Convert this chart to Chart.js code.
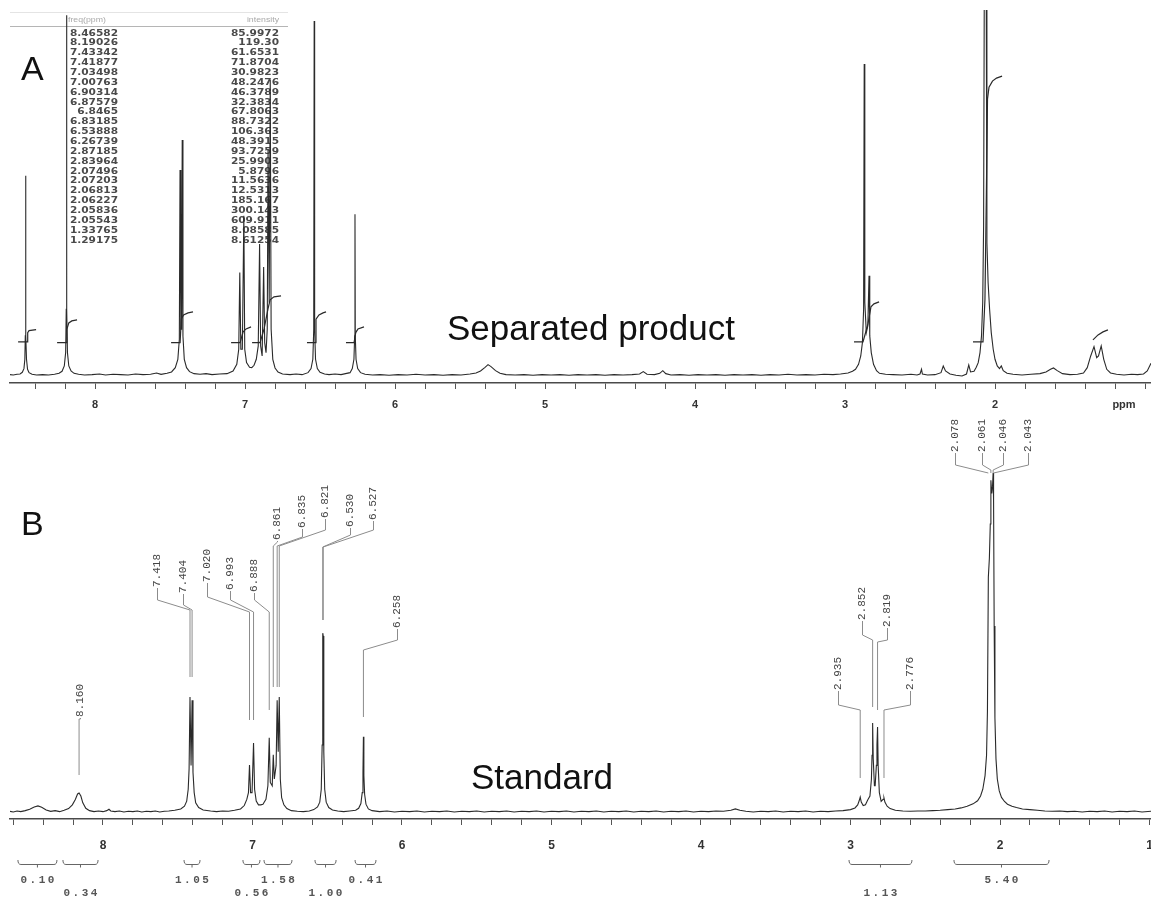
<!DOCTYPE html>
<html><head><meta charset="utf-8">
<script src="https://cdn.jsdelivr.net/npm/chart.js@4/dist/chart.umd.min.js"></script>
<style>
html,body{margin:0;padding:0;background:#fff;}
#wrap{position:relative;width:1151px;height:902px;overflow:hidden;background:#fff;}
canvas{position:absolute;left:0;top:0;}
</style></head><body>
<div id="wrap"><canvas id="cA" width="1151" height="902"></canvas><canvas id="cB" width="1151" height="902"></canvas></div>
<script>
// ---------------- DATA ----------------
// Panel A (separated product): [chemical shift ppm, intensity]
const spectrumA = [[8.567,0.4],[8.545,0.3],[8.52,0.5],[8.50,0.6],[8.485,1.1],[8.474,2.2],[8.468,5],[8.465,12],[8.463,60],[8.461,12],[8.457,5],[8.45,2],[8.44,1],[8.42,0.5],[8.39,0.3],[8.35,0.4],[8.31,0.3],[8.27,0.5],[8.24,0.8],[8.22,1.4],[8.205,3],[8.196,7],[8.192,20],[8.190,108],[8.188,20],[8.184,7],[8.175,3],[8.16,1.5],[8.14,0.8],[8.11,0.5],[8.07,0.3],[8.02,0.4],[7.97,0.6],[7.93,0.3],[7.88,0.5],[7.83,0.4],[7.78,0.3],[7.73,0.6],[7.68,0.4],[7.63,0.5],[7.59,0.9],[7.56,0.5],[7.52,0.8],[7.49,1.2],[7.465,2.5],[7.448,5],[7.438,11],[7.4334,61.7],[7.428,14],[7.423,14],[7.4188,70.7],[7.414,12],[7.405,5],[7.39,2.5],[7.37,1.3],[7.34,0.7],[7.30,0.5],[7.26,0.7],[7.22,0.4],[7.17,0.6],[7.12,0.7],[7.08,1.5],[7.055,3.5],[7.042,8],[7.035,31],[7.028,8],[7.018,8],[7.008,48],[7.002,8],[6.99,4],[6.97,2.6],[6.955,2.5],[6.94,3.2],[6.925,5],[6.912,9],[6.903,39.5],[6.896,9],[6.886,6],[6.876,32.6],[6.869,10],[6.86,7],[6.852,14],[6.8465,67.8],[6.839,22],[6.832,88.7],[6.826,14],[6.815,5],[6.80,2.4],[6.78,1.2],[6.75,0.6],[6.70,0.4],[6.66,0.6],[6.62,0.4],[6.58,1],[6.56,2.2],[6.548,5],[6.542,14],[6.539,106.3],[6.536,14],[6.53,5],[6.518,2.2],[6.50,1.1],[6.47,0.6],[6.44,0.4],[6.40,0.6],[6.36,0.4],[6.33,0.7],[6.30,1],[6.285,2.2],[6.274,5],[6.269,12],[6.267,48.4],[6.265,12],[6.26,5],[6.249,2.2],[6.23,1],[6.20,0.5],[6.15,0.3],[6.10,0.4],[6.04,0.2],[5.98,0.4],[5.92,0.3],[5.86,0.5],[5.80,0.3],[5.74,0.4],[5.68,0.2],[5.62,0.4],[5.56,0.3],[5.50,0.6],[5.46,0.9],[5.43,1.5],[5.40,2.6],[5.38,3.4],[5.36,2.8],[5.33,1.6],[5.30,0.8],[5.26,0.4],[5.20,0.3],[5.14,0.4],[5.08,0.2],[5.02,0.4],[4.96,0.3],[4.90,0.4],[4.84,0.2],[4.78,0.4],[4.72,0.3],[4.66,0.4],[4.60,0.2],[4.54,0.4],[4.48,0.3],[4.42,0.4],[4.37,0.6],[4.345,1.3],[4.32,0.5],[4.27,0.4],[4.235,0.8],[4.215,1.6],[4.195,0.7],[4.16,0.3],[4.10,0.4],[4.04,0.2],[3.98,0.4],[3.92,0.3],[3.86,0.4],[3.80,0.2],[3.74,0.4],[3.68,0.3],[3.62,0.4],[3.56,0.2],[3.50,0.4],[3.44,0.3],[3.38,0.5],[3.32,0.3],[3.26,0.4],[3.20,0.3],[3.14,0.5],[3.08,0.4],[3.03,0.6],[2.98,0.9],[2.95,1.4],[2.93,2],[2.91,3.5],[2.895,6],[2.884,10],[2.876,20],[2.872,93.4],[2.868,22],[2.858,13],[2.848,15],[2.840,30],[2.835,12],[2.825,7],[2.81,3.5],[2.79,1.6],[2.77,0.8],[2.73,0.5],[2.68,0.4],[2.62,0.3],[2.56,0.5],[2.52,0.3],[2.50,0.6],[2.49,2],[2.484,0.6],[2.45,0.3],[2.40,0.4],[2.36,1],[2.345,3],[2.33,1.5],[2.30,0.6],[2.26,0.2],[2.22,0],[2.19,0.6],[2.175,3.3],[2.163,1.2],[2.14,1.4],[2.125,2.6],[2.112,4],[2.10,7],[2.09,12],[2.082,22],[2.076,45],[2.070,140],[2.060,140],[2.054,40],[2.046,28],[2.036,20],[2.025,13],[2.012,8],[2.0,5],[1.985,3],[1.97,2.2],[1.958,3],[1.945,1.6],[1.92,0.8],[1.88,0.5],[1.82,0.3],[1.76,0.5],[1.70,0.7],[1.66,1.2],[1.63,2],[1.61,2.4],[1.585,1.6],[1.55,0.7],[1.50,0.4],[1.45,0.5],[1.41,0.9],[1.385,2.5],[1.362,6],[1.34,8.8],[1.322,5.5],[1.31,6],[1.292,9],[1.275,5],[1.255,2],[1.23,0.9],[1.19,0.5],[1.14,0.3],[1.09,0.5],[1.05,0.4],[1.01,0.6],[0.985,1.5],[0.96,3.8]];

// Panel A integral traces: [ppm, integral level]
const integralA = [
  [[8.513,10.2],[8.453,10.2],[8.449,13],[8.44,13.6],[8.393,13.9]],
  [[8.253,10],[8.193,10],[8.188,14],[8.175,15.9],[8.155,16.5],[8.12,16.8]],
  [[7.493,10],[7.433,10],[7.425,17.1],[7.41,18.3],[7.38,18.9],[7.347,19.2]],
  [[7.093,10],[7.033,10],[7.013,13.2],[6.993,14.1],[6.96,14.7]],
  [[6.953,10],[6.9,10],[6.873,14.1],[6.847,20.1],[6.833,22.8],[6.807,23.7],[6.76,24]],
  [[6.587,10],[6.533,10],[6.527,17],[6.507,18.3],[6.48,18.9],[6.46,19.2]],
  [[6.327,10],[6.273,10],[6.262,13],[6.247,14.1],[6.207,14.7]],
  [[2.94,10.2],[2.88,10.2],[2.847,15.6],[2.827,20.7],[2.807,21.6],[2.773,22.2]],
  [[2.147,10.2],[2.08,10.2],[2.067,23],[2.058,53],[2.05,83],[2.04,86.5],[2.017,88.3],[1.99,89.2],[1.953,89.8]],
  [[1.347,10.8],[1.313,12.3],[1.28,13.2],[1.247,13.8]]
];

// Panel A peak table
const peakTableShift = ['8.46582','8.19026','7.43342','7.41877','7.03498','7.00763','6.90314','6.87579','6.8465','6.83185','6.53888','6.26739','2.87185','2.83964','2.07496','2.07203','2.06813','2.06227','2.05836','2.05543','1.33765','1.29175'];
const peakTableIntensity = ['85.9972','119.30','61.6531','71.8704','30.9823','48.2476','46.3789','32.3834','67.8063','88.7322','106.363','48.3915','93.7259','25.9903','5.8796','11.5636','12.5313','185.167','300.143','609.911','8.08585','8.61254'];

// Panel B (standard): [chemical shift ppm, intensity]
const spectrumB = [[8.622,0.5],[8.60,0.3],[8.575,0.6],[8.55,0.4],[8.52,0.7],[8.49,1.1],[8.46,1.8],[8.435,2.1],[8.41,1.7],[8.38,0.9],[8.35,0.5],[8.32,0.7],[8.29,0.4],[8.26,0.8],[8.23,1.3],[8.205,2.4],[8.185,4],[8.17,5.6],[8.16,5.9],[8.148,5],[8.135,3],[8.115,1.4],[8.09,0.7],[8.06,0.4],[8.03,0.6],[8.0,0.4],[7.975,0.7],[7.96,1.1],[7.948,0.6],[7.92,0.4],[7.89,0.6],[7.86,0.3],[7.83,0.5],[7.80,0.4],[7.77,0.6],[7.74,0.3],[7.71,0.5],[7.68,0.4],[7.65,0.6],[7.62,0.3],[7.59,0.5],[7.56,0.6],[7.52,0.8],[7.48,1.2],[7.455,2],[7.44,3.5],[7.43,7],[7.424,13],[7.418,34.1],[7.411,14],[7.404,33.2],[7.398,12],[7.39,6],[7.38,3],[7.36,1.6],[7.33,0.9],[7.28,0.6],[7.24,0.4],[7.20,0.6],[7.16,0.5],[7.12,0.8],[7.08,1.2],[7.055,2.2],[7.038,4],[7.027,6],[7.020,14.1],[7.013,6],[7.003,6],[6.993,20.6],[6.986,7],[6.975,3.5],[6.96,2.4],[6.945,2.4],[6.93,2.6],[6.91,4],[6.897,8],[6.888,22.1],[6.881,9],[6.868,8],[6.861,17.1],[6.854,10],[6.842,14],[6.835,33.2],[6.828,18],[6.821,34.1],[6.814,10],[6.805,4.5],[6.79,2.4],[6.77,1.3],[6.74,0.7],[6.70,0.5],[6.66,0.4],[6.62,0.6],[6.59,1],[6.565,1.8],[6.55,3.2],[6.54,7],[6.534,20],[6.530,52.9],[6.527,52.1],[6.523,18],[6.517,7],[6.507,3.2],[6.49,1.6],[6.465,0.9],[6.43,0.6],[6.39,0.4],[6.35,0.6],[6.31,0.8],[6.29,1.4],[6.275,2.8],[6.266,6],[6.261,12],[6.258,22.4],[6.255,11],[6.25,5.5],[6.241,2.6],[6.225,1.2],[6.20,0.7],[6.15,0.4],[6.10,0.6],[6.05,0.3],[6.0,0.5],[5.95,0.4],[5.90,0.6],[5.85,0.3],[5.80,0.5],[5.75,0.4],[5.70,0.6],[5.65,0.3],[5.60,0.5],[5.55,0.4],[5.50,0.6],[5.45,0.3],[5.40,0.5],[5.35,0.4],[5.30,0.6],[5.25,0.3],[5.20,0.5],[5.15,0.4],[5.10,0.6],[5.05,0.3],[5.0,0.5],[4.95,0.4],[4.90,0.6],[4.85,0.3],[4.80,0.5],[4.75,0.4],[4.70,0.6],[4.65,0.3],[4.60,0.5],[4.55,0.4],[4.50,0.6],[4.45,0.3],[4.40,0.5],[4.35,0.4],[4.30,0.6],[4.25,0.3],[4.20,0.5],[4.15,0.4],[4.10,0.6],[4.05,0.3],[4.0,0.5],[3.95,0.4],[3.90,0.6],[3.85,0.5],[3.80,0.8],[3.77,1.2],[3.74,0.8],[3.70,0.5],[3.65,0.3],[3.60,0.5],[3.55,0.4],[3.50,0.6],[3.45,0.3],[3.40,0.5],[3.35,0.4],[3.30,0.6],[3.25,0.3],[3.20,0.5],[3.15,0.4],[3.10,0.6],[3.05,0.7],[3.0,1],[2.97,1.5],[2.952,2.4],[2.942,3.6],[2.935,4.7],[2.928,3.2],[2.915,2.2],[2.90,2.4],[2.885,3.8],[2.87,5],[2.86,10],[2.856,17],[2.852,26.5],[2.848,16],[2.84,8],[2.835,8],[2.827,14],[2.823,20],[2.819,25.3],[2.815,14],[2.807,6],[2.795,3.4],[2.782,4],[2.776,4.4],[2.77,3.2],[2.755,2],[2.735,1.3],[2.70,0.8],[2.65,0.6],[2.60,0.5],[2.55,0.6],[2.50,0.6],[2.45,0.7],[2.40,0.8],[2.35,1],[2.30,1.2],[2.26,1.5],[2.22,2],[2.18,2.7],[2.15,3.6],[2.13,5],[2.115,7],[2.10,11],[2.09,17],[2.084,30],[2.078,69.4],[2.071,75],[2.065,85],[2.061,97.9],[2.055,94],[2.050,96],[2.046,100],[2.043,92.1],[2.039,55],[2.034,28],[2.027,16],[2.018,10],[2.005,6.5],[1.99,4.6],[1.97,3.4],[1.95,2.6],[1.92,2],[1.89,1.6],[1.85,1.2],[1.80,1],[1.75,0.8],[1.70,0.6],[1.65,0.5],[1.60,0.6],[1.55,0.4],[1.50,0.5],[1.45,0.3],[1.40,0.5],[1.35,0.4],[1.30,0.6],[1.25,0.3],[1.20,0.5],[1.15,0.4],[1.10,0.6],[1.05,0.3],[0.99,0.5]];

// Panel B peak picks
const peakLabelsB = ['8.160','7.418','7.404','7.020','6.993','6.888','6.861','6.835','6.821','6.530','6.527','6.258','2.935','2.852','2.819','2.776','2.078','2.061','2.046','2.043'];
// Panel B integrals: [from ppm, to ppm] and values
const integralRangesB = [[8.569,8.308],[8.268,8.033],[7.458,7.351],[7.064,6.950],[6.923,6.736],[6.582,6.441],[6.314,6.174],[3.010,2.589],[2.308,1.672]];
const integralValuesB = ['0.10','0.34','1.05','0.56','1.58','1.00','0.41','1.13','5.40'];

// Axis tick labels (ppm)
const axisLabelsA = [8,7,6,5,4,3,2];
const axisLabelsB = [8,7,6,5,4,3,2,1];

// ---------------- LAYOUT (pixels, not data) ----------------
// peak label geometry: [text x, text bottom y, elbow y, join y, leader end y]
const peakLabelLayoutB = [[80,717,719,719,775],[157,587,600,610,677],[183,593,605,610,677],[207,582,597,612,720],[230,590,600,612,720],[254,592,600,612,710],[277,540,542,546,687],[302,528,537,546,687],[325,518,530,546,687],[350,527,535,547,620],[373,520,530,547,620],[397,628,640,650,717],[838,690,705,710,778],[862,620,635,640,707],[887,627,640,642,710],[910,690,705,710,778],[955,452,465,473,473],[982,452,465,470,473],[1003,452,465,470,473],[1028,452,465,473,473]];
const integralRowB = [1,2,1,2,1,2,1,2,1];

Chart.defaults.font.family = "'Liberation Sans', Arial, sans-serif";
const INK = '#2a2a2a';

function isInt(v){ return Math.abs(v - Math.round(v)) < 1e-6; }

function xAxis(min, max, labels, h, fontSize, pad){
  return {
    type:'linear', reverse:true, min:min, max:max, position:'bottom',
    afterFit:(s)=>{ s.paddingLeft = 0; s.paddingRight = 0; s.height = h; },
    border:{display:true, color:'#4a4a4a', width:1.5},
    grid:{display:true, drawOnChartArea:false, drawTicks:true, tickLength:6, tickColor:'#555', tickWidth:1},
    ticks:{stepSize:0.2, includeBounds:false, autoSkip:false, maxRotation:0, minRotation:0, padding:pad,
      color:'#333', font:{size:fontSize, weight:'bold'},
      callback:(v)=> (isInt(v) && labels.indexOf(Math.round(v)) >= 0) ? String(Math.round(v)) : ''}
  };
}

function lineDs(pairs, w){
  return {data: pairs.map(p=>({x:p[0], y:p[1]})), borderColor:INK, borderWidth:w, pointRadius:0, tension:0, fill:false};
}

// ---------- Chart A ----------
const tablePlugin = {
  id:'tableA',
  beforeDatasetsDraw(chart){
    const ctx = chart.ctx; ctx.save();
    ctx.strokeStyle = '#e4e4e4'; ctx.lineWidth = 1;
    ctx.beginPath(); ctx.moveTo(10,12.5); ctx.lineTo(288,12.5); ctx.stroke();
    ctx.strokeStyle = '#b5b5b5';
    ctx.beginPath(); ctx.moveTo(10,26.5); ctx.lineTo(288,26.5); ctx.stroke();
    ctx.fillStyle = '#aaa'; ctx.font = "7px 'Liberation Sans'"; ctx.textBaseline = 'middle';
    ctx.save(); ctx.translate(68,20); ctx.scale(1.25,1); ctx.textAlign='left'; ctx.fillText('freq(ppm)',0,0); ctx.restore();
    ctx.save(); ctx.translate(279,20); ctx.scale(1.25,1); ctx.textAlign='right'; ctx.fillText('intensity',0,0); ctx.restore();
    ctx.fillStyle = '#4a4a4a'; ctx.font = "bold 8px 'DejaVu Sans'";
    for (let i=0;i<peakTableShift.length;i++){
      const y = 33.5 + i*9.86;
      ctx.save(); ctx.translate(118,y); ctx.scale(1.32,1); ctx.textAlign='right'; ctx.fillText(peakTableShift[i],0,0); ctx.restore();
      ctx.save(); ctx.translate(279,y); ctx.scale(1.32,1); ctx.textAlign='right'; ctx.fillText(peakTableIntensity[i],0,0); ctx.restore();
    }
    ctx.restore();
  },
  afterDraw(chart){
    const ctx = chart.ctx; ctx.save();
    ctx.fillStyle = '#111'; ctx.textBaseline = 'alphabetic';
    ctx.font = "34px 'Liberation Sans'"; ctx.textAlign='left'; ctx.fillText('A', 21, 80);
    ctx.font = "35px 'Liberation Sans'"; ctx.textAlign='center'; ctx.fillText('Separated product', 591, 340);
    ctx.font = "bold 11px 'Liberation Sans'"; ctx.fillStyle = '#333'; ctx.textBaseline='middle';
    ctx.fillText('ppm', 1124, 405);
    ctx.restore();
  }
};

const dsA = [lineDs(spectrumA, 1.1)].concat(integralA.map(seg => lineDs(seg, 1.2)));
new Chart(document.getElementById('cA'), {
  type:'line',
  data:{datasets: dsA},
  options:{
    responsive:false, animation:false, devicePixelRatio:1,
    layout:{padding:{left:10, right:0, top:10, bottom:477}},
    plugins:{legend:{display:false}, tooltip:{enabled:false}, title:{display:false}},
    scales:{
      x: xAxis(0.96, 8.567, axisLabelsA, 42, 11, 9),
      y: {display:false, min:-2.1, max:109.6}
    }
  },
  plugins:[tablePlugin]
});

// ---------- Chart B ----------
const annotB = {
  id:'annotB',
  afterDatasetsDraw(chart){
    const ctx = chart.ctx, xs = chart.scales.x; ctx.save();
    ctx.strokeStyle = '#8c8c8c'; ctx.lineWidth = 1;
    ctx.fillStyle = '#444'; ctx.font = "11px 'Liberation Mono'";
    peakLabelsB.forEach((lab,i)=>{
      const [tx,tb,ey,jy,endY] = peakLabelLayoutB[i];
      const px = xs.getPixelForValue(parseFloat(lab));
      ctx.beginPath(); ctx.moveTo(tx+0.5, tb+1); ctx.lineTo(tx+0.5, ey); ctx.lineTo(px, jy); ctx.lineTo(px, endY); ctx.stroke();
      ctx.save(); ctx.translate(tx+0.5, tb); ctx.rotate(-Math.PI/2);
      ctx.textAlign='left'; ctx.textBaseline='middle'; ctx.fillText(lab,0,0); ctx.restore();
    });
    const yb = 864;
    ctx.strokeStyle = '#666'; ctx.lineWidth = 1;
    ctx.fillStyle = '#555'; ctx.font = "bold 11px 'Liberation Mono'";
    if ('letterSpacing' in ctx) ctx.letterSpacing = '2.5px';
    integralRangesB.forEach((r,i)=>{
      const x1 = xs.getPixelForValue(r[0]), x2 = xs.getPixelForValue(r[1]);
      const xm = (x1+x2)/2;
      ctx.beginPath();
      ctx.moveTo(x1, yb-4); ctx.quadraticCurveTo(x1, yb+0.5, x1+3, yb+0.5);
      ctx.lineTo(x2-3, yb+0.5); ctx.quadraticCurveTo(x2, yb+0.5, x2, yb-4);
      ctx.moveTo(xm, yb+0.5); ctx.lineTo(xm, yb+3.5);
      ctx.stroke();
      const ty = integralRowB[i] === 1 ? 880 : 893;
      ctx.textAlign='center'; ctx.textBaseline='middle';
      ctx.fillText(integralValuesB[i], xm+1.2, ty);
    });
    ctx.restore();
  },
  afterDraw(chart){
    const ctx = chart.ctx; ctx.save();
    ctx.fillStyle = '#111'; ctx.textBaseline='alphabetic';
    ctx.font = "34px 'Liberation Sans'"; ctx.textAlign='left'; ctx.fillText('B', 21, 535);
    ctx.font = "35px 'Liberation Sans'"; ctx.textAlign='center'; ctx.fillText('Standard', 542, 789);
    ctx.restore();
  }
};

new Chart(document.getElementById('cB'), {
  type:'line',
  data:{datasets:[lineDs(spectrumB, 1.1)]},
  options:{
    responsive:false, animation:false, devicePixelRatio:1,
    layout:{padding:{left:10, right:0, top:420, bottom:0}},
    plugins:{legend:{display:false}, tooltip:{enabled:false}, title:{display:false}},
    scales:{
      x: xAxis(0.99, 8.622, axisLabelsB, 83, 12, 13),
      y: {display:false, min:-1.76, max:115.6}
    }
  },
  plugins:[annotB]
});
</script></body></html>
